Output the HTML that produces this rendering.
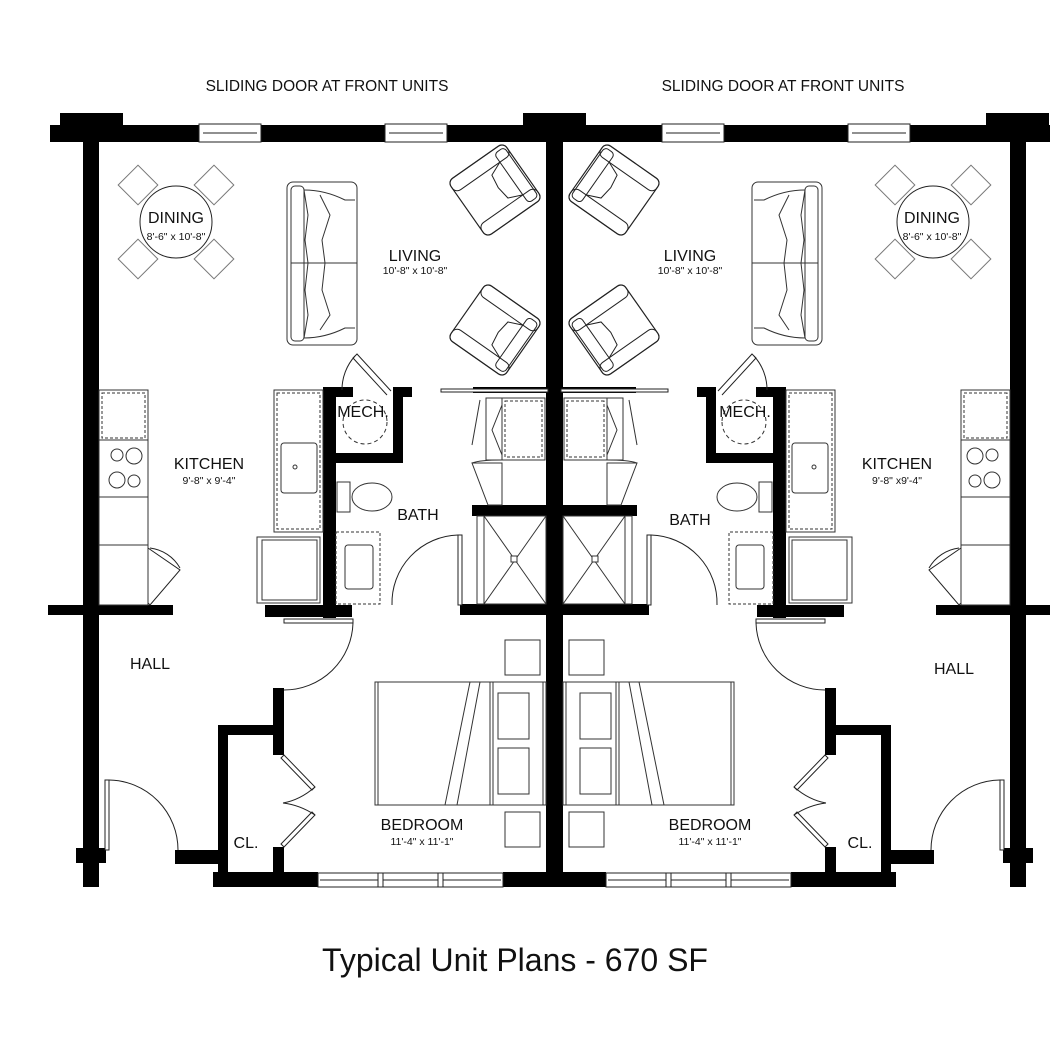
<!DOCTYPE html>
<html><head><style>
html,body{margin:0;padding:0;background:#fff;}
svg{display:block;}
text{font-family:"Liberation Sans",Arial,sans-serif;fill:#111;text-anchor:middle;}
</style></head><body>
<svg width="1050" height="1050" viewBox="0 0 1050 1050" xmlns="http://www.w3.org/2000/svg">
<defs>
<g id="chair">
  <rect x="-34" y="-34" width="68" height="68" rx="6" fill="#fff" stroke="#222" stroke-width="1.2"/>
  <rect x="-34" y="-34" width="68" height="14" rx="6" fill="none" stroke="#222" stroke-width="1"/>
  <rect x="-34" y="20" width="68" height="14" rx="6" fill="none" stroke="#222" stroke-width="1"/>
  <rect x="20" y="-30" width="12" height="60" rx="4" fill="none" stroke="#222" stroke-width="1"/>
  <path d="M20,-20 L6,-14 L4,0 L6,14 L20,20" fill="none" stroke="#222" stroke-width="1"/>
</g>
<g id="unit">
  <g fill="#000">
    <rect x="50" y="125" width="510" height="17"/>
    <rect x="60" y="113" width="63" height="14"/>
    <rect x="523" y="113" width="40" height="14"/>
    <rect x="83" y="125" width="16" height="762"/>
    <rect x="546" y="125" width="9" height="762"/>
    <rect x="48" y="605" width="125" height="10"/>
    <rect x="76" y="848" width="30" height="15"/>
    <rect x="175" y="850" width="45" height="14"/>
    <rect x="213" y="872" width="105" height="15"/>
    <rect x="503" y="872" width="55" height="15"/>
    <rect x="218" y="725" width="10" height="160"/>
    <rect x="218" y="725" width="66" height="10"/>
    <rect x="273" y="688" width="11" height="67"/>
    <rect x="273" y="847" width="11" height="30"/>
    <rect x="323" y="387" width="13" height="231"/>
    <rect x="323" y="387" width="30" height="10"/>
    <rect x="393" y="387" width="19" height="10"/>
    <rect x="393" y="387" width="10" height="76"/>
    <rect x="336" y="453" width="67" height="10"/>
    <rect x="265" y="605" width="87" height="12"/>
    <rect x="460" y="604" width="90" height="11"/>
    <rect x="472" y="505" width="76" height="11"/>
    <rect x="473" y="387" width="75" height="6"/>
  </g>
  <g fill="#fff" stroke="#222" stroke-width="1">
    <rect x="199" y="124" width="62" height="18"/>
    <line x1="203" y1="133" x2="257" y2="133"/>
    <rect x="385" y="124" width="62" height="18"/>
    <line x1="389" y1="133" x2="443" y2="133"/>
    <rect x="318" y="873" width="185" height="14"/>
    <line x1="320" y1="880" x2="501" y2="880"/>
    <rect x="378" y="873" width="5" height="14"/>
    <rect x="438" y="873" width="5" height="14"/>
  </g>
  <rect x="441" y="389" width="107" height="3" fill="#fff" stroke="#222" stroke-width="1"/>
  <g fill="none" stroke="#222" stroke-width="1">
    <rect x="105" y="780" width="4" height="70" fill="#fff"/>
    <path d="M109,780 A70,70 0 0 1 178,850"/>
    <rect x="284" y="619" width="69" height="4" fill="#fff"/>
    <path d="M353,623 A69,69 0 0 1 284,690"/>
    <rect x="458" y="535" width="4" height="70" fill="#fff"/>
    <path d="M458,535 A68,68 0 0 0 392,605"/>
    <path d="M391,391 L357,354 L353,358 L387,395" fill="#fff"/>
    <path d="M355,356 A50,50 0 0 0 342,390"/>
    <path d="M284,755 L315,787 L312,790 L281,758 Z M284,847 L315,815 L312,812 L281,844 Z"/>
    <path d="M283,803 Q300,800 315,787 M283,803 Q300,805 315,815"/>
    <path d="M148,548 L180,570 L150,605 L148,603"/>
    <path d="M150,548 A40,40 0 0 1 180,568"/>
  </g>
  <g fill="none" stroke="#333" stroke-width="1">
    <rect x="99" y="390" width="49" height="215"/>
    <rect x="102" y="393" width="43" height="45" stroke-dasharray="3,2"/>
    <rect x="99" y="440" width="49" height="57"/>
    <circle cx="117" cy="455" r="6"/><circle cx="134" cy="456" r="8"/>
    <circle cx="117" cy="480" r="8"/><circle cx="134" cy="481" r="6"/>
    <rect x="99" y="545" width="49" height="60"/>
    <rect x="274" y="390" width="49" height="142"/>
    <rect x="277" y="393" width="43" height="136" stroke-dasharray="3,2"/>
    <rect x="281" y="443" width="36" height="50" rx="3"/>
    <circle cx="295" cy="467" r="2"/>
    <rect x="257" y="537" width="63" height="66"/>
    <rect x="262" y="540" width="55" height="60"/>
    <circle cx="365" cy="422" r="22" stroke-dasharray="4,3"/>
    <rect x="337" y="482" width="13" height="30"/>
    <ellipse cx="372" cy="497" rx="20" ry="14"/>
    <rect x="336" y="532" width="44" height="72" stroke-dasharray="3,2"/>
    <rect x="345" y="545" width="28" height="44" rx="3"/>
    <rect x="502" y="398" width="43" height="62"/>
    <rect x="505" y="401" width="37" height="56" stroke-dasharray="3,2"/>
    <rect x="486" y="398" width="16" height="62"/>
    <path d="M480,400 L472,445 M502,405 L492,430 L502,455"/>
    <path d="M472,463 L502,463 L502,505 L488,505 Z M472,463 Q480,460 502,460"/>
    <rect x="477" y="516" width="69" height="88"/>
    <line x1="484" y1="516" x2="484" y2="604"/>
    <path d="M484,516 L546,604 M546,516 L484,604"/>
    <rect x="511" y="556" width="6" height="6" fill="#fff"/>
    <rect x="378" y="682" width="165" height="123"/>
    <rect x="375" y="682" width="3" height="123"/>
    <rect x="543" y="682" width="3" height="123"/>
    <line x1="490" y1="682" x2="490" y2="805"/><line x1="493" y1="682" x2="493" y2="805"/>
    <path d="M470,682 L445,805 M480,682 L457,805"/>
    <rect x="498" y="693" width="31" height="46"/>
    <rect x="498" y="748" width="31" height="46"/>
    <rect x="505" y="640" width="35" height="35"/>
    <rect x="505" y="812" width="35" height="35"/>
    <g stroke="#777">
      <circle cx="176" cy="222" r="36" stroke="#222"/>
      <rect x="-14" y="-14" width="28" height="28" transform="translate(138,185) rotate(45)"/>
      <rect x="-14" y="-14" width="28" height="28" transform="translate(214,185) rotate(45)"/>
      <rect x="-14" y="-14" width="28" height="28" transform="translate(138,259) rotate(45)"/>
      <rect x="-14" y="-14" width="28" height="28" transform="translate(214,259) rotate(45)"/>
    </g>
    <rect x="287" y="182" width="70" height="163" rx="6"/>
    <rect x="291" y="186" width="13" height="155" rx="4"/>
    <line x1="291" y1="263" x2="357" y2="263"/>
    <path d="M304,190 L308,215 L305,240 L308,263 L305,290 L308,315 L304,338"/>
    <path d="M320,195 L330,215 L322,240 L325,263 L322,290 L330,315 L320,330"/>
    <path d="M304,190 Q325,190 345,200 L355,200 M304,338 Q325,338 345,328 L355,328"/>
  </g>
  <use href="#chair" transform="translate(495,190) rotate(-35)"/>
  <use href="#chair" transform="translate(495,330) rotate(35)"/>
</g>
</defs>
<use href="#unit"/>
<use href="#unit" transform="translate(1109,0) scale(-1,1)"/>

<text x="327" y="91" font-size="15.5">SLIDING DOOR AT FRONT UNITS</text>
<text x="783" y="91" font-size="15.5">SLIDING DOOR AT FRONT UNITS</text>
<g font-size="16">
<text x="176" y="223">DINING</text>
<text x="415" y="261">LIVING</text>
<text x="209" y="469">KITCHEN</text>
<text x="363" y="417">MECH.</text>
<text x="418" y="520">BATH</text>
<text x="150" y="669">HALL</text>
<text x="422" y="830">BEDROOM</text>
<text x="246" y="848">CL.</text>
<text x="932" y="223">DINING</text>
<text x="690" y="261">LIVING</text>
<text x="897" y="469">KITCHEN</text>
<text x="745" y="417">MECH.</text>
<text x="690" y="525">BATH</text>
<text x="954" y="674">HALL</text>
<text x="710" y="830">BEDROOM</text>
<text x="860" y="848">CL.</text>
</g>
<g font-size="10.5">
<text x="176" y="240">8'-6" x 10'-8"</text>
<text x="415" y="274">10'-8" x 10'-8"</text>
<text x="209" y="484">9'-8" x 9'-4"</text>
<text x="422" y="845">11'-4" x 11'-1"</text>
<text x="932" y="240">8'-6" x 10'-8"</text>
<text x="690" y="274">10'-8" x 10'-8"</text>
<text x="897" y="484">9'-8" x9'-4"</text>
<text x="710" y="845">11'-4" x 11'-1"</text>
</g>
<text x="515" y="971" font-size="32">Typical Unit Plans - 670 SF</text>
</svg>
</body></html>
